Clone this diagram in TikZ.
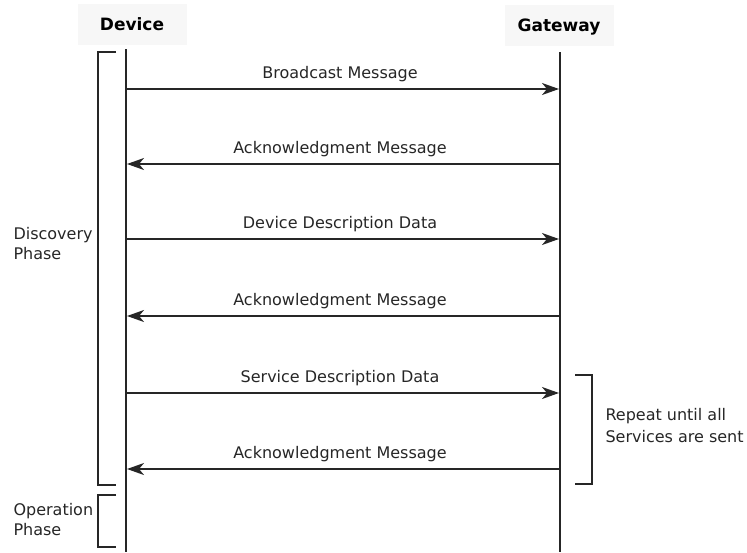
\documentclass[tikz,border=0pt]{standalone}
\usepackage{fontspec}
\setmainfont{DejaVu Sans}
\usetikzlibrary{arrows.meta}
\begin{document}
\begin{tikzpicture}[x=1pt,y=-1pt,
  hdr/.style={fill=black!3,draw=none,minimum width=109pt,minimum height=41pt,font=\fontsize{17}{20}\selectfont\bfseries},
  life/.style={line width=2.6pt,black!85},
  msg/.style={line width=1.7pt,black!85,-{Stealth[length=17pt,width=12pt,inset=5pt]}},
  lbl/.style={font=\fontsize{16}{19}\selectfont,black!85},
  side/.style={font=\fontsize{16}{20}\selectfont,align=left,anchor=west,black!85},
  brk/.style={line width=1.5pt,black!85}]
\useasboundingbox (0,0) rectangle (747,552);
\node[hdr,text depth=0pt] (dev) at (132,24) {Device};
\node[hdr,text depth=0pt] (gw) at (559,25) {Gateway};
\coordinate (dtop) at (126,49);
\coordinate (dbot) at (126,552);
\coordinate (gtop) at (560,52);
\coordinate (gbot) at (560,552);
\draw[life] (dtop) -- (dbot);
\draw[life] (gtop) -- (gbot);
% messages
\foreach \y/\d/\t [count=\i] in {89/r/Broadcast Message,164/l/Acknowledgment Message,239/r/Device Description Data,316/l/Acknowledgment Message,393/r/Service Description Data,469/l/Acknowledgment Message}{
  \coordinate (a\i) at (127,\y);
  \coordinate (b\i) at (559,\y);
  \if r\d
    \draw[msg] (a\i) -- (b\i) node[lbl,midway,above=3pt,xshift=-3pt] (m\i) {\t};
  \else
    \draw[msg] (b\i) -- (a\i) node[lbl,midway,above=3pt,xshift=-3pt] (m\i) {\t};
  \fi
}
% discovery bracket
\coordinate (d1) at (116,52);
\coordinate (d2) at (98,52);
\coordinate (d3) at (98,485);
\coordinate (d4) at (116,485);
\draw[brk] (d1) -- (d2) -- (d3) -- (d4);
\node[side] (disc) at (10,244) {Discovery\\Phase};
% operation bracket
\coordinate (o1) at (116,495);
\coordinate (o2) at (98,495);
\coordinate (o3) at (98,547);
\coordinate (o4) at (116,547);
\draw[brk] (o1) -- (o2) -- (o3) -- (o4);
\node[side] (oper) at (10,520) {Operation\\Phase};
% repeat bracket
\coordinate (r1) at (575,375);
\coordinate (r2) at (592,375);
\coordinate (r3) at (592,484);
\coordinate (r4) at (575,484);
\draw[brk] (r1) -- (r2) -- (r3) -- (r4);
\node[side,font=\fontsize{16}{22}\selectfont] (rep) at (602,426) {Repeat until all\\Services are sent};
\end{tikzpicture}
\end{document}
